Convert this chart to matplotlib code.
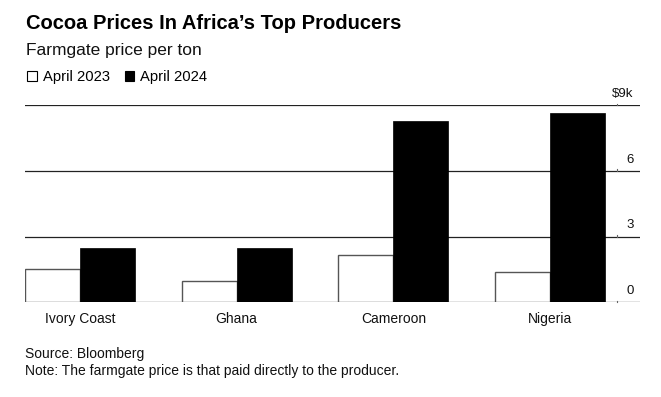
import numpy as np
import matplotlib
matplotlib.use("Agg")
import matplotlib.pyplot as plt
import matplotlib.transforms as mtransforms
from matplotlib.patches import Rectangle

plt.rcParams['font.family'] = ['Liberation Sans', 'DejaVu Sans']

# data, $ thousands per ton
countries = ['Ivory Coast', 'Ghana', 'Cameroon', 'Nigeria']
april_2023 = [1.50, 0.96, 2.16, 1.39]
april_2024 = [2.49, 2.49, 8.30, 8.67]
y_ticks = [0, 3, 6, 9]
y_tick_labels = ['0', '3', '6', '$9k']

W, H = 661, 397
fig = plt.figure(figsize=(W / 100, H / 100), dpi=100)

# axes box in pixels
ax_left, ax_right, ax_bottom, ax_top = 25, 640, 302.3, 105.3
ax = fig.add_axes([ax_left / W, 1 - ax_bottom / H,
                   (ax_right - ax_left) / W, (ax_bottom - ax_top) / H])

x = np.arange(len(countries))
w = 0.351
ax.bar(x - w / 2, april_2023, w, color='white', edgecolor='#555555', linewidth=1.0, zorder=3)
ax.bar(x + w / 2, april_2024, w, color='black', edgecolor='black', linewidth=0.5, zorder=3)

ax.set_xlim(-w, 3.574)
ax.set_ylim(0, 9)

for s in ax.spines.values():
    s.set_visible(False)

for v in y_ticks:
    ax.axhline(v, color='#222222', linewidth=0.9, zorder=2)

# y labels sit above their gridlines at the right
trans = mtransforms.blended_transform_factory(ax.transAxes, ax.transData)
off = mtransforms.offset_copy(trans, fig=fig, x=-4.5, y=6, units='points')
tick_x = (617 - ax_left) / (ax_right - ax_left)
for v, lab in zip(y_ticks, y_tick_labels):
    ax.text(1.0, v, lab, transform=off, ha='right', va='baseline',
            fontsize=9.5, color='#111111', clip_on=False)
    # little marker tick where the label column begins
    ax.plot([tick_x, tick_x], [v, v + 0.08], transform=trans,
            color='#666666', linewidth=0.8, clip_on=False, zorder=2)

ax.set_yticks([])
ax.set_xticks(x)
ax.set_xticklabels(countries, fontsize=10, color='#111111')
ax.tick_params(axis='x', length=0, pad=7)

# header
fig.text(26 / W, 1 - 29.3 / H, 'Cocoa Prices In Africa\u2019s Top Producers',
         fontsize=14.5, fontweight='bold', va='baseline', ha='left')
fig.text(26 / W, 1 - 55 / H, 'Farmgate price per ton',
         fontsize=12.5, va='baseline', ha='left', color='#111111')

# legend
box = 9
fig.patches.append(Rectangle((27.5 / W, 1 - 80.5 / H), box / W, box / H,
                             transform=fig.transFigure, facecolor='white',
                             edgecolor='black', linewidth=0.8))
fig.text(43 / W, 1 - 81 / H, 'April 2023', fontsize=10.6, va='baseline', ha='left')
fig.patches.append(Rectangle((124.5 / W, 1 - 80.5 / H), box / W, box / H,
                             transform=fig.transFigure, facecolor='black',
                             edgecolor='black', linewidth=0.8))
fig.text(140.5 / W, 1 - 81 / H, 'April 2024', fontsize=10.6, va='baseline', ha='left')

# footer
fig.text(25 / W, 1 - 358 / H, 'Source: Bloomberg', fontsize=10, va='baseline', ha='left', color='#111111')
fig.text(25 / W, 1 - 375 / H, 'Note: The farmgate price is that paid directly to the producer.',
         fontsize=10, va='baseline', ha='left', color='#111111')

fig.savefig('out.png', dpi=100)
